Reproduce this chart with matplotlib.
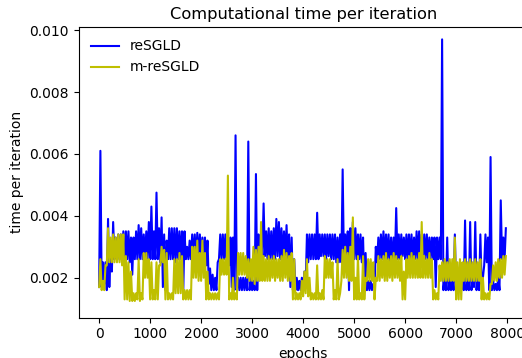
import numpy as np
import matplotlib
matplotlib.use("Agg")
import matplotlib.pyplot as plt

# Per-iteration wall time in milliseconds.  Each 50-epoch window stores the
# lowest and the highest time seen inside it; the curve visits both.
window = 50

resgld_lo = [
    1.7, 1.7, 1.8, 1.6, 1.7, 2.2, 2.6, 2.6, 2.6, 2.6,
    2.6, 2.6, 2.5, 2.1, 2.6, 2.6, 2.6, 2.6, 2.6, 2.6,
    2.6, 2.6, 2.6, 2.6, 2.5, 1.7, 1.6, 2.6, 2.6, 2.6,
    2.5, 2.6, 2.6, 1.6, 2.6, 2.6, 2.6, 2.6, 2.6, 2.6,
    2.5, 2.5, 2.4, 1.8, 1.6, 1.6, 1.6, 2.6, 2.6, 2.6,
    2.5, 2.4, 1.7, 1.6, 1.6, 1.6, 1.6, 1.6, 1.6, 1.6,
    1.6, 1.6, 1.6, 2.8, 2.7, 2.7, 2.6, 2.6, 2.6, 2.6,
    2.7, 2.6, 2.6, 2.6, 2.5, 1.7, 1.6, 1.6, 1.6, 1.6,
    1.6, 1.8, 2.5, 2.6, 2.6, 2.6, 2.6, 2.7, 2.7, 2.6,
    2.7, 2.6, 2.6, 2.5, 2.5, 2.5, 2.5, 2.5, 1.6, 2.6,
    2.6, 2.6, 2.6, 2.5, 1.7, 1.6, 1.6, 1.6, 1.7, 2.5,
    2.6, 2.6, 2.6, 2.6, 2.5, 2.5, 2.6, 2.6, 2.6, 2.7,
    2.6, 2.6, 2.6, 2.6, 2.6, 2.6, 2.6, 2.7, 2.6, 2.6,
    2.6, 2.6, 1.7, 2.6, 2.6, 1.6, 1.6, 1.6, 1.6, 1.6,
    1.6, 1.6, 1.6, 1.6, 1.6, 1.6, 1.6, 1.7, 1.6, 1.6,
    1.8, 2.4, 2.5, 1.6, 1.6, 1.6, 1.6, 1.6, 2.6, 2.6,
]
resgld_hi = [
    6.1, 2.5, 2.5, 3.9, 3.0, 3.8, 3.3, 3.4, 3.4, 3.5,
    3.5, 3.5, 3.3, 3.3, 3.5, 3.7, 3.6, 3.4, 3.5, 3.8,
    4.3, 3.5, 4.75, 3.6, 3.95, 3.4, 3.2, 3.6, 3.6, 3.6,
    3.6, 3.5, 3.5, 3.5, 3.0, 3.2, 3.4, 3.4, 3.45, 3.4,
    3.3, 3.3, 3.2, 2.3, 2.1, 2.0, 2.5, 3.4, 3.4, 3.4,
    3.3, 3.3, 3.3, 6.6, 2.0, 2.0, 2.0, 2.0, 6.4, 2.0,
    1.9, 5.35, 3.4, 3.4, 4.4, 3.5, 3.6, 3.5, 3.6, 3.9,
    3.8, 3.6, 3.5, 3.7, 3.4, 3.3, 2.6, 2.0, 1.9, 2.0,
    2.2, 3.4, 3.4, 3.4, 3.4, 4.1, 3.4, 3.4, 3.4, 3.4,
    3.4, 3.4, 3.4, 3.3, 3.4, 5.5, 3.4, 3.5, 3.6, 3.8,
    3.6, 3.4, 3.4, 3.3, 2.8, 1.9, 1.9, 1.8, 3.0, 3.3,
    3.4, 3.5, 3.4, 3.4, 3.3, 3.3, 4.25, 3.4, 3.4, 3.3,
    3.4, 3.4, 3.4, 3.3, 3.5, 3.5, 3.4, 3.4, 3.4, 3.3,
    3.3, 3.3, 3.3, 3.3, 9.7, 2.0, 3.3, 2.0, 2.0, 3.4,
    2.0, 2.0, 2.0, 3.85, 2.0, 3.8, 2.0, 3.8, 2.0, 3.4,
    2.0, 3.4, 3.3, 5.9, 1.9, 1.8, 2.0, 4.5, 3.3, 3.6,
]

m_resgld_lo = [
    1.7, 1.6, 1.6, 2.4, 2.5, 2.5, 2.5, 2.5, 2.5, 2.4,
    1.3, 1.3, 1.25, 1.25, 1.25, 1.3, 1.25, 1.3, 2.0, 2.0,
    1.3, 1.3, 1.3, 1.3, 2.4, 2.5, 1.3, 1.3, 1.3, 1.3,
    1.5, 1.5, 1.5, 1.3, 1.3, 1.3, 1.3, 2.0, 2.0, 1.9,
    1.9, 2.0, 1.3, 1.3, 1.3, 1.3, 1.3, 1.3, 2.1, 2.1,
    2.1, 1.3, 1.3, 1.3, 1.3, 2.1, 2.1, 2.1, 2.0, 1.9,
    1.9, 1.8, 1.9, 1.9, 1.9, 1.9, 1.9, 1.9, 2.0, 1.9,
    2.0, 1.9, 1.9, 2.0, 1.9, 1.9, 1.3, 1.3, 1.3, 1.3,
    1.4, 1.5, 1.4, 1.3, 1.3, 1.3, 1.3, 1.3, 1.3, 2.0,
    2.0, 2.0, 1.3, 1.3, 1.3, 1.9, 2.0, 2.0, 1.9, 1.9,
    1.3, 1.3, 1.3, 1.3, 1.3, 1.9, 1.9, 1.9, 1.3, 1.9,
    1.9, 2.0, 1.9, 1.9, 2.0, 1.9, 2.0, 2.0, 1.9, 1.3,
    1.3, 2.0, 2.0, 2.0, 2.0, 2.0, 2.0, 2.0, 2.0, 2.0,
    2.0, 1.3, 1.3, 1.3, 1.9, 1.9, 1.9, 1.9, 1.9, 1.9,
    1.3, 1.3, 1.3, 1.9, 1.9, 1.9, 1.9, 1.9, 1.9, 1.9,
    1.3, 1.3, 1.3, 1.3, 1.8, 1.9, 1.9, 2.0, 2.0, 2.1,
]
m_resgld_hi = [
    2.6, 1.9, 2.4, 3.6, 3.3, 3.4, 3.3, 3.4, 3.4, 3.4,
    2.7, 2.5, 2.2, 1.5, 1.5, 2.6, 1.5, 2.8, 2.8, 2.6,
    2.5, 1.6, 2.5, 2.4, 3.0, 2.9, 2.8, 1.5, 1.5, 2.6,
    2.6, 2.8, 2.7, 1.6, 1.6, 1.6, 3.0, 3.0, 3.2, 2.8,
    3.2, 2.8, 2.2, 1.5, 1.5, 1.5, 1.5, 2.6, 2.6, 2.6,
    5.3, 1.5, 2.0, 1.5, 2.8, 2.8, 2.8, 2.7, 2.6, 2.6,
    3.0, 2.9, 3.0, 3.8, 2.7, 2.6, 2.7, 2.6, 2.7, 2.6,
    2.6, 2.7, 2.9, 2.8, 2.7, 2.8, 2.6, 1.5, 1.5, 1.9,
    2.2, 2.6, 2.0, 1.5, 1.5, 2.4, 1.5, 1.6, 2.7, 2.6,
    2.6, 2.5, 1.6, 2.6, 1.5, 2.9, 3.0, 2.8, 3.0, 3.95,
    2.0, 2.7, 1.5, 2.7, 2.0, 2.6, 2.6, 2.5, 2.0, 2.7,
    2.6, 2.7, 2.8, 2.6, 2.7, 2.8, 2.7, 2.6, 2.7, 2.2,
    2.6, 2.7, 2.8, 2.7, 2.6, 2.8, 3.8, 2.7, 2.6, 2.8,
    2.6, 1.6, 1.5, 2.4, 2.5, 2.6, 2.5, 2.6, 2.6, 3.3,
    2.5, 2.6, 2.5, 2.6, 2.5, 2.6, 2.5, 2.6, 2.5, 2.6,
    2.0, 1.5, 1.5, 1.8, 2.4, 2.5, 2.6, 2.6, 2.7, 2.7,
]


def envelope_path(lo_ms, hi_ms):
    """Epochs and seconds for a curve that runs through each window's min then max."""
    n = len(lo_ms)
    starts = np.arange(n) * window
    xs = np.column_stack([starts, starts + window / 2]).ravel()
    ys = np.column_stack([lo_ms, hi_ms]).ravel() * 1e-3
    return xs, ys


fs = 10
fig = plt.figure(figsize=(5.22, 3.58), dpi=100)
ax = fig.add_axes([0.1508, 0.1126, 0.8598, 0.812])

x_b, y_b = envelope_path(resgld_lo, resgld_hi)
x_y, y_y = envelope_path(m_resgld_lo, m_resgld_hi)
ax.plot(x_b, y_b, color="b", lw=1.5, label="reSGLD")
ax.plot(x_y, y_y, color="y", lw=1.5, label="m-reSGLD")

ax.set_xlim(-400, 8400)
ax.set_ylim(0.00071, 0.0101)
ax.set_xticks(np.arange(0, 8001, 1000))
ax.set_yticks([0.002, 0.004, 0.006, 0.008, 0.010])
ax.set_yticklabels(["0.002", "0.004", "0.006", "0.008", "0.010"])
ax.tick_params(labelsize=fs)

ax.set_title("Computational time per iteration", fontsize=11.7)
ax.set_xlabel("epochs", fontsize=fs)
ax.set_ylabel("time per iteration", fontsize=fs)
ax.legend(loc="upper left", frameon=False, fontsize=fs)

fig.savefig("out.png", dpi=100)
